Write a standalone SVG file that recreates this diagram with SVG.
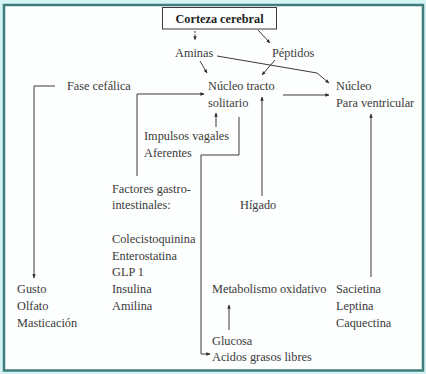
<svg xmlns="http://www.w3.org/2000/svg" width="426" height="374" viewBox="0 0 426 374">
<style>
text{font-family:"Liberation Serif","Times New Roman",serif;font-size:12.3px;fill:#3a3a3a}
.b{font-weight:bold;fill:#1e1e1e}
.c{fill:none;stroke:#3a3a3a;stroke-width:1}
</style>
<defs>
<marker id="ah" viewBox="0 0 6 6" refX="5.5" refY="3" markerWidth="4" markerHeight="4" orient="auto" markerUnits="userSpaceOnUse">
<path d="M0,0.5 L6,3 L0,5.5 Z" fill="#2a2a2a"/>
</marker>
</defs>
<rect x="0" y="0" width="426" height="374" fill="#d6f3f5"/>
<rect x="4" y="5" width="419" height="365.5" fill="#fdfefe" stroke="#3f7d7c" stroke-width="2.5"/>
<g id="corteza">
<rect x="162.5" y="7.5" width="114" height="21.5" fill="#fdfefe" stroke="#3a3a3a" stroke-width="1"/>
<text class="b" x="219.5" y="22.5" text-anchor="middle">Corteza cerebral</text>
</g>
<g id="aminas"><text x="175" y="57">Aminas</text></g>
<g id="peptidos"><text x="272" y="57">Péptidos</text></g>
<g id="fase"><text x="67" y="90">Fase cefálica</text></g>
<g id="nts"><text x="208" y="90">Núcleo tracto</text><text x="208" y="107">solitario</text></g>
<g id="npv"><text x="336" y="90">Núcleo</text><text x="336" y="107">Para ventricular</text></g>
<g id="impulsos"><text x="144" y="140">Impulsos vagales</text><text x="144" y="157">Aferentes</text></g>
<g id="factores"><text x="112" y="193">Factores gastro-</text><text x="112" y="209">intestinales:</text></g>
<g id="higado"><text x="240" y="209">Hígado</text></g>
<g id="hormonas"><text x="112" y="243">Colecistoquinina</text><text x="112" y="259.5">Enterostatina</text><text x="112" y="276">GLP 1</text><text x="112" y="293">Insulina</text><text x="112" y="310">Amilina</text></g>
<g id="sentidos"><text x="17" y="293">Gusto</text><text x="17" y="310">Olfato</text><text x="17" y="327">Masticación</text></g>
<g id="metabolismo"><text x="212" y="293">Metabolismo oxidativo</text></g>
<g id="saciedad"><text x="336" y="293">Sacietina</text><text x="336" y="310">Leptina</text><text x="336" y="327">Caquectina</text></g>
<g id="sustratos"><text x="212" y="345">Glucosa</text><text x="212" y="361">Acidos grasos libres</text></g>
<g id="connectors">
<path class="c" d="M195,31 V40" stroke-dasharray="2,1.2" marker-end="url(#ah)"/>
<path class="c" d="M258,30 L270,43" marker-end="url(#ah)"/>
<path class="c" d="M200,61 L207,73" marker-end="url(#ah)"/>
<path class="c" d="M275,60 L262,75" marker-end="url(#ah)"/>
<path class="c" d="M217,56 L317,73 L329,83" marker-end="url(#ah)"/>
<path class="c" d="M55,86 H34 V278" marker-end="url(#ah)"/>
<path class="c" d="M137,176 V94 H204" marker-end="url(#ah)"/>
<path class="c" d="M216,127 V113" marker-end="url(#ah)"/>
<path class="c" d="M239,117 V155 H201 V354 H210" marker-end="url(#ah)"/>
<path class="c" d="M262,196 V97" marker-end="url(#ah)"/>
<path class="c" d="M283,95 H329" marker-end="url(#ah)"/>
<path class="c" d="M371,277 V114" marker-end="url(#ah)"/>
<path class="c" d="M229,330 V305" marker-end="url(#ah)"/>
</g>
</svg>
